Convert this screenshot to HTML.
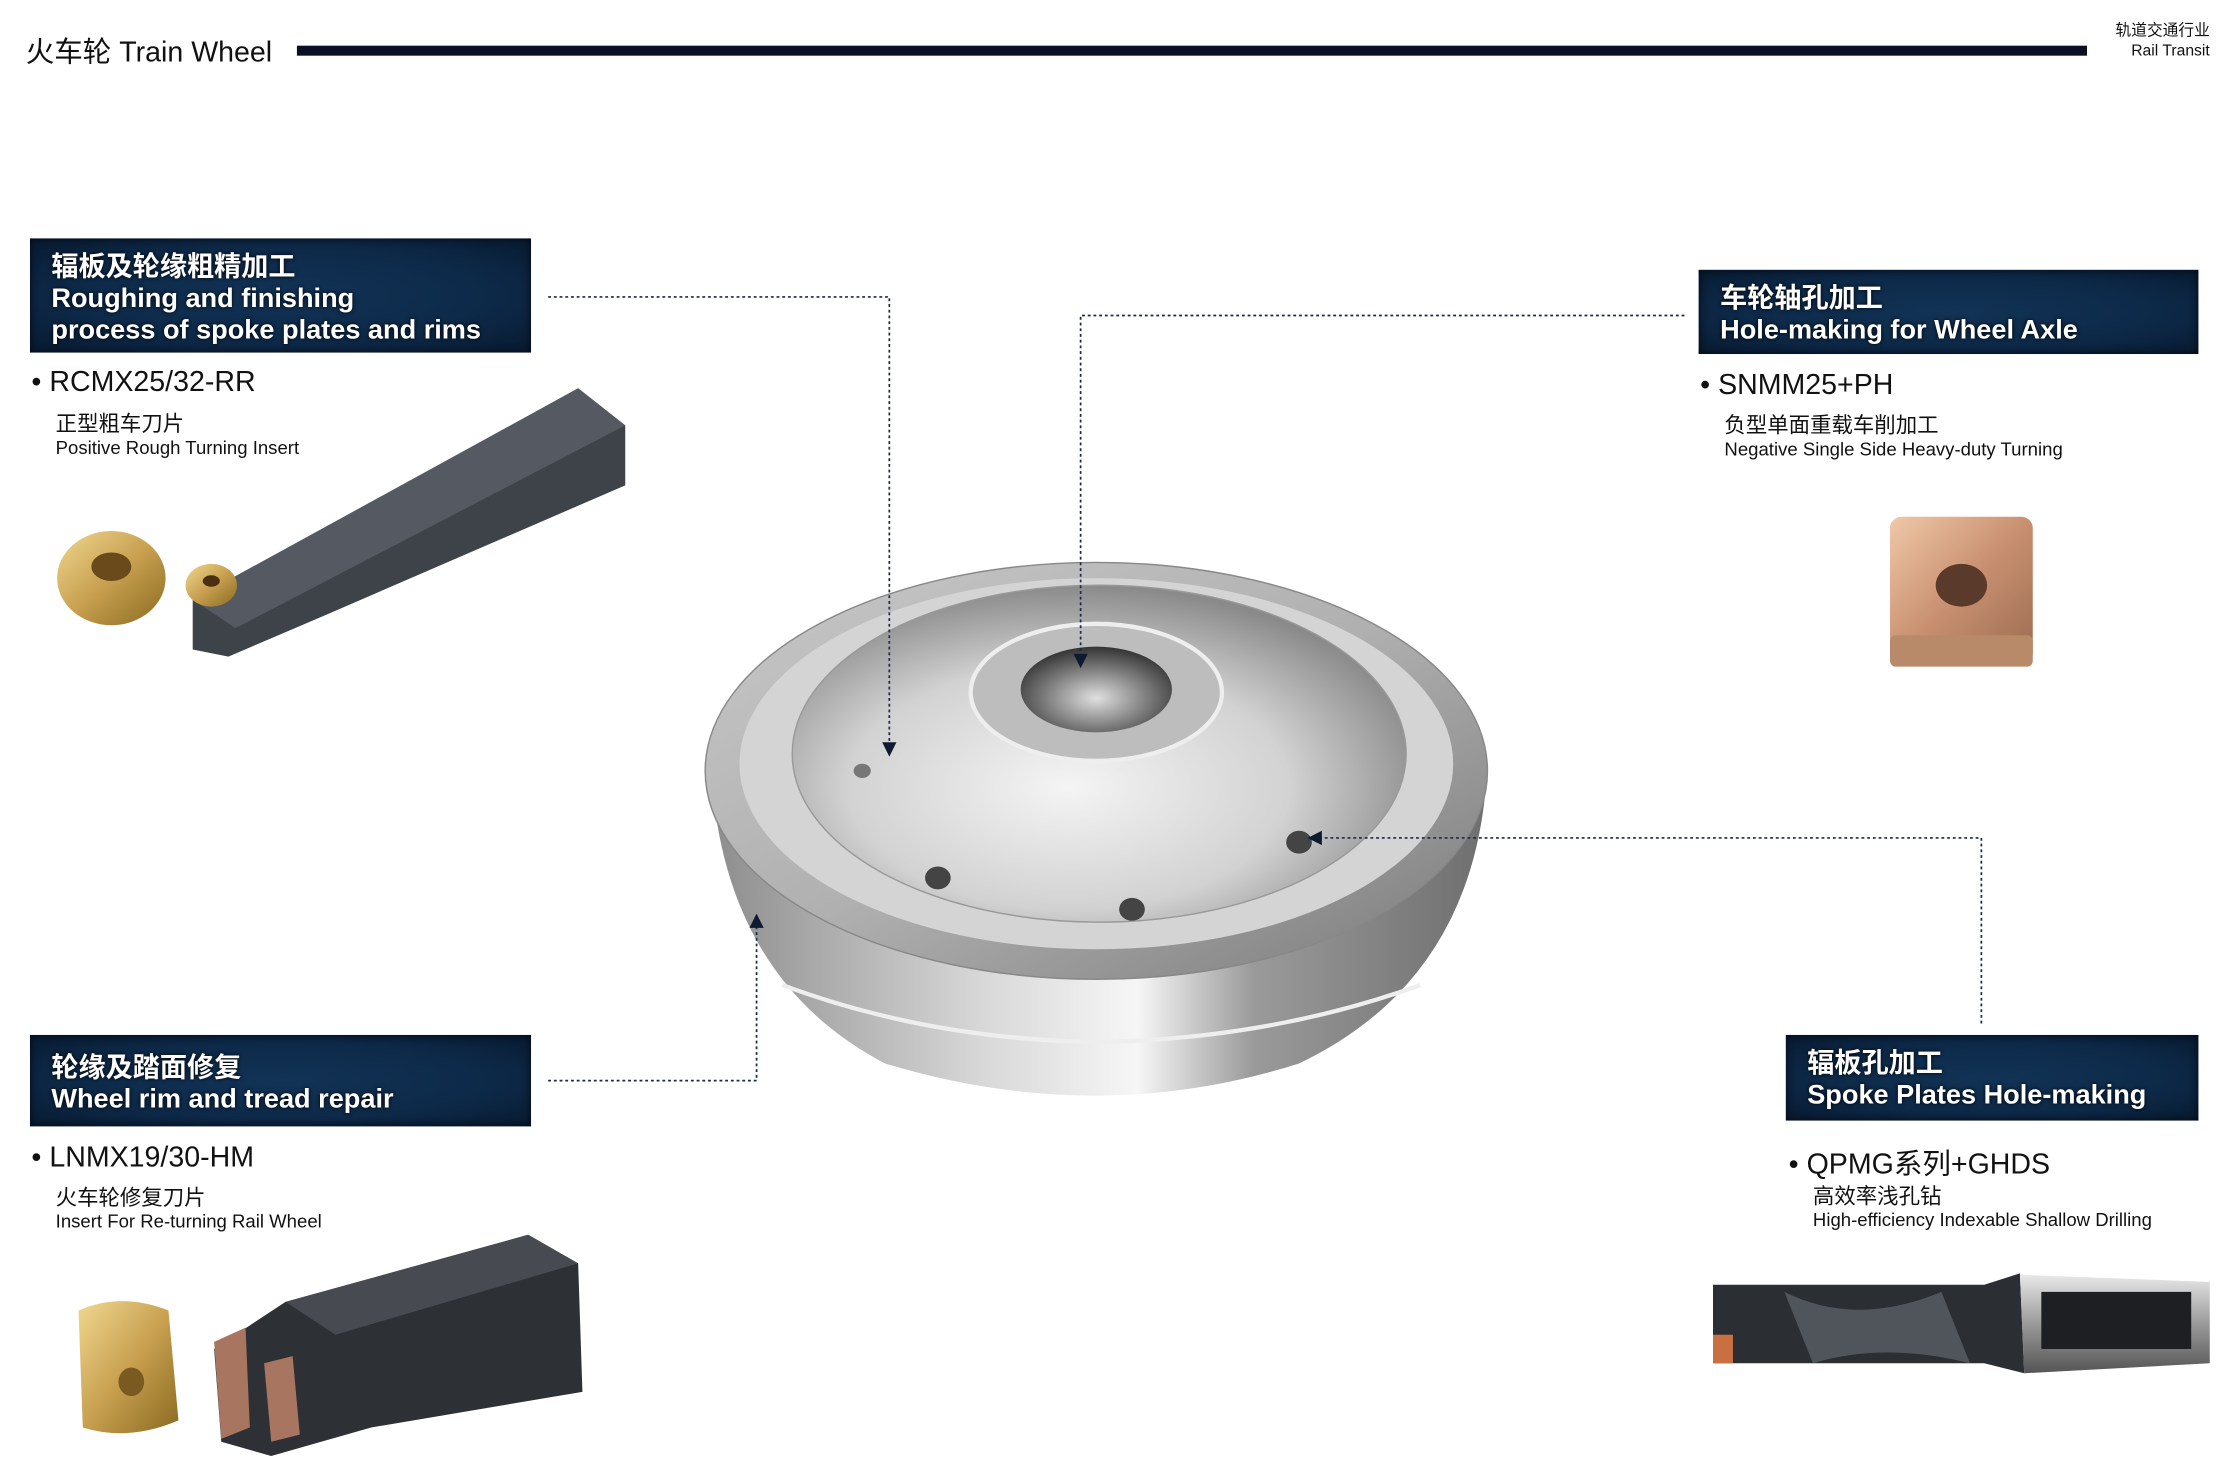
<!DOCTYPE html>
<html><head><meta charset="utf-8"><style>
html,body{margin:0;padding:0;background:#fff;width:2238px;height:1473px;overflow:hidden}
#c{position:absolute;left:0;top:0;width:1568px;height:1032px;transform:scale(1.4275);transform-origin:0 0;font-family:"Liberation Sans","Noto Sans CJK SC",sans-serif;color:#111}
.t{position:absolute;white-space:nowrap}
.box{position:absolute;background:radial-gradient(ellipse at 50% 50%,#123356 0%,#0d2948 60%,#081a30 100%);box-shadow:inset 0 0 6px #020a16;color:#fff;font-weight:bold;font-size:19px;line-height:22px;padding-left:15px;box-sizing:border-box;text-shadow:0 0 3px #000}
.p{font-size:20px}.cn{font-size:15px}.en{font-size:13px}
</style></head><body><div id="c">
<div class="t" style="left:18px;top:20px;font-size:20px">火车轮 Train Wheel</div>
<div style="position:absolute;left:208px;top:32px;width:1254px;height:7px;background:#0a0f24"></div>
<div class="t" style="left:1475px;top:15px;width:73px;font-size:11px;text-align:right;line-height:14px">轨道交通行业<br>Rail Transit</div>

<div class="box" style="left:21px;top:167px;width:351px;height:80px;padding-top:10px">辐板及轮缘粗精加工<br>Roughing and finishing<br>process of spoke plates and rims</div>
<div class="box" style="left:1190px;top:189px;width:350px;height:59px;padding-top:10px">车轮轴孔加工<br>Hole-making for Wheel Axle</div>
<div class="box" style="left:21px;top:725px;width:351px;height:64px;padding-top:13px">轮缘及踏面修复<br>Wheel rim and tread repair</div>
<div class="box" style="left:1251px;top:725px;width:289px;height:60px;padding-top:10px">辐板孔加工<br>Spoke Plates Hole-making</div>

<div class="t p" style="left:22px;top:257px">• RCMX25/32-RR</div>
<div class="t cn" style="left:39px;top:286px">正型粗车刀片</div>
<div class="t en" style="left:39px;top:306px">Positive Rough Turning Insert</div>

<div class="t p" style="left:1191px;top:259px">• SNMM25+PH</div>
<div class="t cn" style="left:1208px;top:287px">负型单面重载车削加工</div>
<div class="t en" style="left:1208px;top:307px">Negative Single Side Heavy-duty Turning</div>

<div class="t p" style="left:22px;top:800px">• LNMX19/30-HM</div>
<div class="t cn" style="left:39px;top:828px">火车轮修复刀片</div>
<div class="t en" style="left:39px;top:848px">Insert For Re-turning Rail Wheel</div>

<div class="t p" style="left:1253px;top:799px">• QPMG系列+GHDS</div>
<div class="t cn" style="left:1270px;top:827px">高效率浅孔钻</div>
<div class="t en" style="left:1270px;top:847px">High-efficiency Indexable Shallow Drilling</div>

<svg width="1568" height="1032" style="position:absolute;left:0;top:0">
<defs>
<linearGradient id="body" x1="0" x2="1"><stop offset="0" stop-color="#8d8d8d"/><stop offset="0.35" stop-color="#d8d8d8"/><stop offset="0.55" stop-color="#f6f6f6"/><stop offset="0.7" stop-color="#9a9a9a"/><stop offset="1" stop-color="#6f6f6f"/></linearGradient>
<linearGradient id="flange" x1="0" y1="0" x2="1" y2="1"><stop offset="0" stop-color="#c8c8c8"/><stop offset="0.5" stop-color="#b0b0b0"/><stop offset="1" stop-color="#7a7a7a"/></linearGradient>
<radialGradient id="dish" cx="0.45" cy="0.6" r="0.6"><stop offset="0" stop-color="#f4f4f4"/><stop offset="0.6" stop-color="#d2d2d2"/><stop offset="1" stop-color="#8a8a8a"/></radialGradient>
<radialGradient id="hole" cx="0.5" cy="0.6" r="0.6"><stop offset="0" stop-color="#e0e0e0"/><stop offset="0.6" stop-color="#777"/><stop offset="1" stop-color="#333"/></radialGradient>
<linearGradient id="gold" x1="0" y1="0" x2="1" y2="1"><stop offset="0" stop-color="#f0d890"/><stop offset="0.5" stop-color="#c8a050"/><stop offset="1" stop-color="#8a6a20"/></linearGradient>
<linearGradient id="bronze" x1="0" y1="0" x2="1" y2="1"><stop offset="0" stop-color="#f0c8a8"/><stop offset="0.5" stop-color="#c89070"/><stop offset="1" stop-color="#9a6a50"/></linearGradient>
<linearGradient id="steel" x1="0" y1="0" x2="0" y2="1"><stop offset="0" stop-color="#e8e8e8"/><stop offset="0.5" stop-color="#9a9a9a"/><stop offset="1" stop-color="#555"/></linearGradient>
</defs>
<!-- wheel -->
<path d="M500 560 Q515 690 620 745 Q768 790 910 745 Q1025 690 1040 560 Z" fill="url(#body)"/>
<path d="M548 690 Q650 728 768 730 Q890 728 995 690" fill="none" stroke="#eee" stroke-width="3"/>
<ellipse cx="768" cy="540" rx="274" ry="146" fill="url(#flange)" stroke="#888" stroke-width="1"/>
<ellipse cx="768" cy="535" rx="250" ry="130" fill="#d4d4d4"/>
<ellipse cx="770" cy="528" rx="215" ry="118" fill="url(#dish)" stroke="#999"/>
<ellipse cx="768" cy="485" rx="88" ry="48" fill="#bdbdbd" stroke="#eee" stroke-width="3"/>
<ellipse cx="768" cy="483" rx="53" ry="30" fill="url(#hole)"/>
<ellipse cx="657" cy="615" rx="9" ry="8" fill="#444"/>
<ellipse cx="793" cy="637" rx="9" ry="8" fill="#444"/>
<ellipse cx="910" cy="590" rx="9" ry="8" fill="#444"/>
<ellipse cx="604" cy="540" rx="6" ry="5" fill="#777"/>
<!-- connectors -->
<g fill="none" stroke="#1b2a44" stroke-width="1.2" stroke-dasharray="2 2">
<path d="M384 208 H623 V522"/><path d="M1180 221 H757 V462"/>
<path d="M384 757 H530 V645"/><path d="M1388 717 V587 H920"/>
</g>
<g fill="#0d1a30">
<path d="M618 520 L628 520 L623 530Z"/><path d="M752 458 L762 458 L757 468Z"/>
<path d="M525 650 L535 650 L530 640Z"/><path d="M926 582 L926 592 L916 587Z"/>
</g>
<!-- tool 1 -->
<path d="M135 420 L200 385 L405 272 L438 298 L438 340 L230 430 L160 460 L135 455Z" fill="#3e434a"/>
<path d="M135 420 L405 272 L438 298 L165 440Z" fill="#555a62"/>
<ellipse cx="78" cy="405" rx="38" ry="33" fill="url(#gold)"/>
<ellipse cx="78" cy="397" rx="14" ry="10" fill="#6a4a1a"/>
<ellipse cx="148" cy="410" rx="18" ry="15" fill="url(#gold)"/>
<ellipse cx="148" cy="407" rx="6" ry="4" fill="#4a3010"/>
<!-- square insert -->
<rect x="1324" y="362" width="100" height="104" rx="8" fill="url(#bronze)"/>
<rect x="1324" y="445" width="100" height="22" rx="4" fill="#b88a6a"/>
<ellipse cx="1374" cy="410" rx="18" ry="15" fill="#5a3a2a"/>
<!-- tool 3 -->
<path d="M200 912 L370 865 L405 885 L408 975 L260 1000 L190 1020 L155 1010 L150 945Z" fill="#2d3035"/>
<path d="M200 912 L370 865 L405 885 L235 935Z" fill="#474b51"/>
<path d="M150 940 L172 930 L175 1000 L155 1008Z" fill="#a87560"/>
<path d="M185 955 L205 950 L210 1005 L190 1010Z" fill="#a87560"/>
<path d="M55 918 Q85 905 118 918 L125 995 Q90 1010 58 1000Z" fill="url(#gold)"/>
<ellipse cx="92" cy="968" rx="9" ry="10" fill="#7a5a20"/>
<!-- drill -->
<path d="M1200 900 L1390 900 L1415 892 L1418 962 L1390 955 L1200 955Z" fill="#2b2e33"/>
<path d="M1415 893 L1548 898 L1548 955 L1418 962Z" fill="url(#steel)"/>
<rect x="1430" y="905" width="105" height="40" fill="#1d1f22"/>
<path d="M1250 905 Q1300 930 1360 905 L1380 955 Q1320 940 1270 955Z" fill="#50555c"/>
<rect x="1200" y="935" width="14" height="20" fill="#c87040"/>
</svg>
</div></body></html>
